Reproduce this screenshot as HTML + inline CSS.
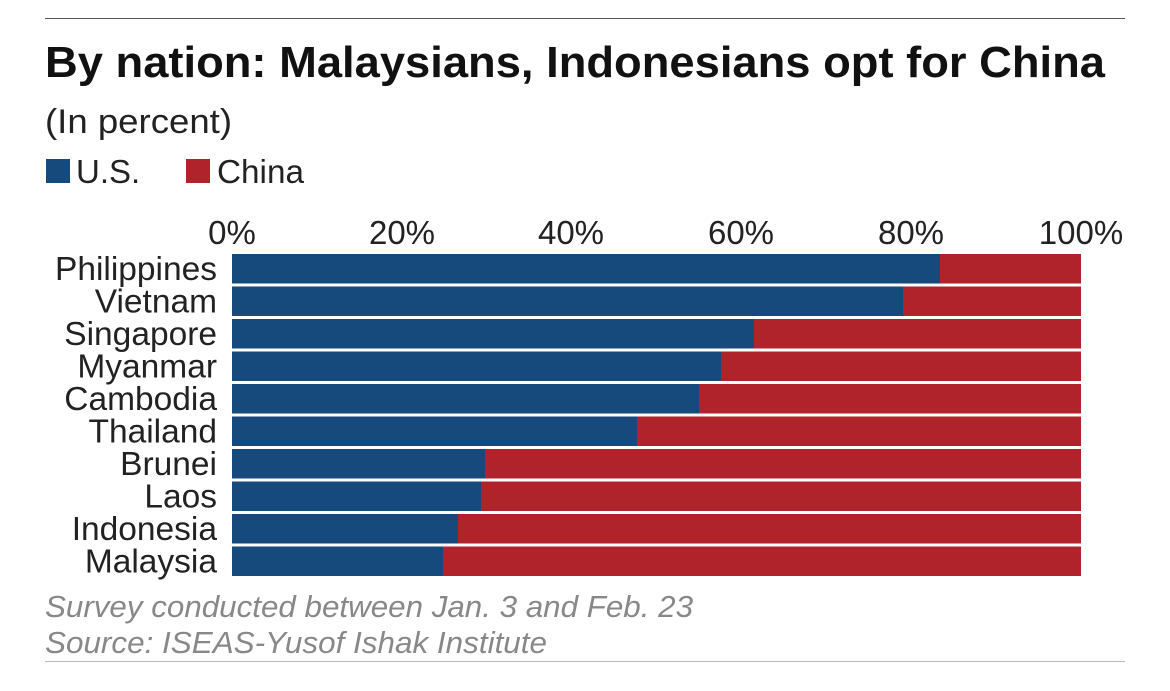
<!DOCTYPE html>
<html><head><style>
body{margin:0;background:#fff;width:1170px;height:686px;overflow:hidden;font-family:"Liberation Sans",Arial,sans-serif;}
</style></head><body>
<svg width="1170" height="686" xmlns="http://www.w3.org/2000/svg" font-family="Liberation Sans, Arial, sans-serif">
<line x1="45" y1="18.5" x2="1125" y2="18.5" stroke="#555" stroke-width="1"/>
<line x1="45" y1="661.5" x2="1125" y2="661.5" stroke="#bbb" stroke-width="1"/>
<text x="45" y="77" font-size="44" font-weight="bold" fill="#111" textLength="1060" lengthAdjust="spacingAndGlyphs">By nation: Malaysians, Indonesians opt for China</text>
<text x="45" y="133" font-size="34" fill="#222" textLength="187" lengthAdjust="spacingAndGlyphs">(In percent)</text>
<rect x="46" y="159" width="24" height="24" fill="#174a7c"/>
<text x="76" y="183" font-size="33" fill="#222">U.S.</text>
<rect x="186" y="159" width="24" height="24" fill="#b0232a"/>
<text x="217" y="183" font-size="33" fill="#222" textLength="87" lengthAdjust="spacingAndGlyphs">China</text>
<g font-size="33" fill="#222" text-anchor="middle">
<text x="232" y="244">0%</text><text x="402" y="244">20%</text><text x="571" y="244">40%</text><text x="741" y="244">60%</text><text x="911" y="244">80%</text><text x="1081" y="244">100%</text>
</g>
<g id="bars"></g>
<g font-size="33.5" fill="#222" text-anchor="end" id="labels"></g>
<text x="45" y="617" font-size="30.5" font-style="italic" fill="#888" textLength="648" lengthAdjust="spacingAndGlyphs">Survey conducted between Jan. 3 and Feb. 23</text>
<text x="45" y="653" font-size="30.5" font-style="italic" fill="#888" textLength="502" lengthAdjust="spacingAndGlyphs">Source: ISEAS-Yusof Ishak Institute</text>
<script>
var d=[["Philippines",940],["Vietnam",903],["Singapore",754],["Myanmar",721],["Cambodia",699],["Thailand",637],["Brunei",485],["Laos",481],["Indonesia",458],["Malaysia",443]];
var b=document.getElementById("bars"),l=document.getElementById("labels"),ns="http://www.w3.org/2000/svg";
d.forEach(function(r,i){var y=254+i*32.5;
var a=document.createElementNS(ns,"rect");a.setAttribute("x",232);a.setAttribute("y",y);a.setAttribute("width",r[1]-232);a.setAttribute("height",29.5);a.setAttribute("fill","#174a7c");b.appendChild(a);
var c=document.createElementNS(ns,"rect");c.setAttribute("x",r[1]);c.setAttribute("y",y);c.setAttribute("width",1081-r[1]);c.setAttribute("height",29.5);c.setAttribute("fill","#b0232a");b.appendChild(c);
var t=document.createElementNS(ns,"text");t.setAttribute("x",217);t.setAttribute("y",y+26);t.textContent=r[0];l.appendChild(t);});
</script>
</svg>
</body></html>
